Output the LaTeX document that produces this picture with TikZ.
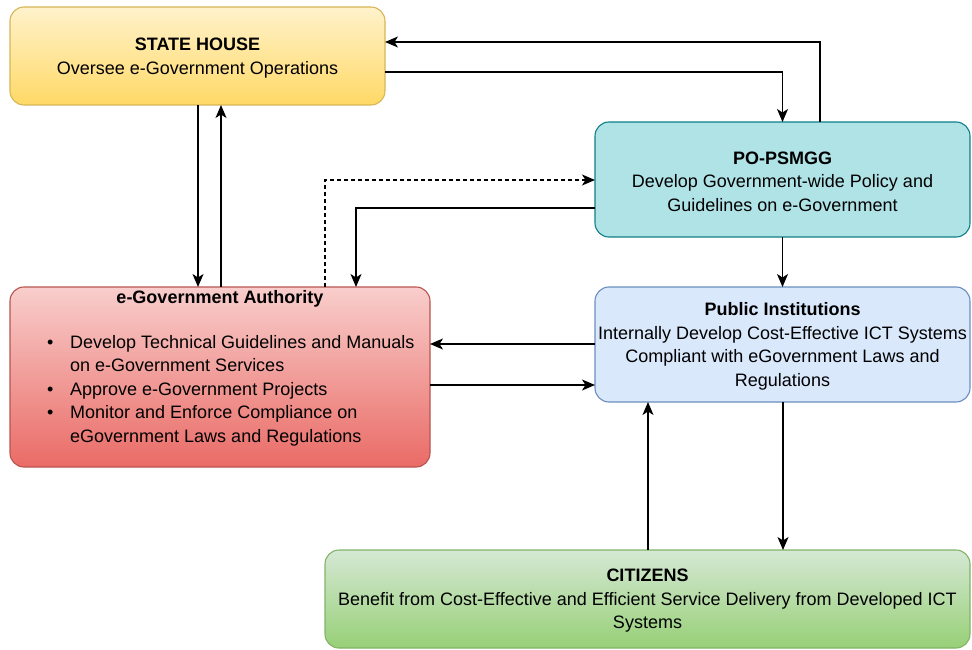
\documentclass[tikz,border=0pt]{standalone}
\usepackage{fontspec}
\setmainfont{Liberation Sans}
\usetikzlibrary{arrows.meta}
\definecolor{yelT}{HTML}{FFF2CC}\definecolor{yelB}{HTML}{FFD966}\definecolor{yelD}{HTML}{D6B656}
\definecolor{tealF}{HTML}{B0E3E6}\definecolor{tealD}{HTML}{0E8088}
\definecolor{redT}{HTML}{F8CECC}\definecolor{redB}{HTML}{EA6B66}\definecolor{redD}{HTML}{B85450}
\definecolor{bluF}{HTML}{DAE8FC}\definecolor{bluD}{HTML}{6C8EBF}
\definecolor{grnT}{HTML}{D5E8D4}\definecolor{grnB}{HTML}{97D077}\definecolor{grnD}{HTML}{82B366}
\tikzset{
  box/.style={rectangle, rounded corners=14pt, line width=1.1pt, inner sep=0pt, outer sep=0pt, align=center},
  txt/.style={inner sep=0pt, align=center, yshift=-2pt, font=\fontsize{18}{23.5}\selectfont},
  arr/.style={line width=1.3pt, -{Stealth[length=13pt,width=11pt,inset=3.5pt]}},
}
\begin{document}
\begin{tikzpicture}[x=1pt,y=-1pt]
\useasboundingbox (0,0) rectangle (972,650);
% boxes
\node[box, draw=yelD, top color=yelT, bottom color=yelB, minimum width=375pt, minimum height=98pt] (sh) at (197.5,56) {};
\node[txt] (shtxt) at (sh.center) {\textbf{STATE HOUSE}\\Oversee e-Government Operations};
\node[box, draw=tealD, fill=tealF, minimum width=375pt, minimum height=115pt] (po) at (782.5,179.5) {};
\node[txt] (potxt) at (po.center) {\textbf{PO-PSMGG}\\Develop Government-wide Policy and\\Guidelines on e-Government};
\node[box, draw=redD, top color=redT, bottom color=redB, minimum width=420pt, minimum height=180pt] (ega) at (220,377) {};
\node[txt] (egatitle) at (220,297) {\textbf{e-Government Authority}};
\node[txt, anchor=west, align=left] (egalist) at (47,388.5) {%
  \begin{tabular}{@{}p{23pt}@{}l@{}}
  \textbullet & Develop Technical Guidelines and Manuals\\
   & on e-Government Services\\
  \textbullet & Approve e-Government Projects\\
  \textbullet & Monitor and Enforce Compliance on\\
   & eGovernment Laws and Regulations
  \end{tabular}};
\node[box, draw=bluD, fill=bluF, minimum width=375pt, minimum height=115pt] (pub) at (782.5,344.5) {};
\node[txt] (pubtxt) at (pub.center) {\textbf{Public Institutions}\\Internally Develop Cost-Effective ICT Systems\\Compliant with eGovernment Laws and\\Regulations};
\node[box, draw=grnD, top color=grnT, bottom color=grnB, minimum width=645pt, minimum height=98pt] (cit) at (647.5,599) {};
\node[txt] (cittxt) at (cit.center) {\textbf{CITIZENS}\\Benefit from Cost-Effective and Efficient Service Delivery from Developed ICT\\Systems};
% connectors
\draw[arr] (sh.east |- 0,72) -| (po.north);
\draw[arr] (po.north -| 820,0) |- (sh.east |- 0,42);
\draw[arr] (sh.south -| 198,0) -- (ega.north -| 198,0);
\draw[arr] (ega.north -| 221,0) -- (sh.south -| 221,0);
\draw[arr, dashed, dash pattern=on 4pt off 3pt] (ega.north -| 325,0) |- (po.west |- 0,180);
\draw[arr] (po.west |- 0,208) -| (ega.north -| 356,0);
\draw[arr] (po.south) -- (pub.north);
\draw[arr] (pub.west |- 0,344) -- (ega.east |- 0,344);
\draw[arr] (ega.east |- 0,385) -- (pub.west |- 0,385);
\draw[arr] (pub.south -| 783,0) -- (cit.north -| 783,0);
\draw[arr] (cit.north -| 648,0) -- (pub.south -| 648,0);
\end{tikzpicture}
\end{document}
